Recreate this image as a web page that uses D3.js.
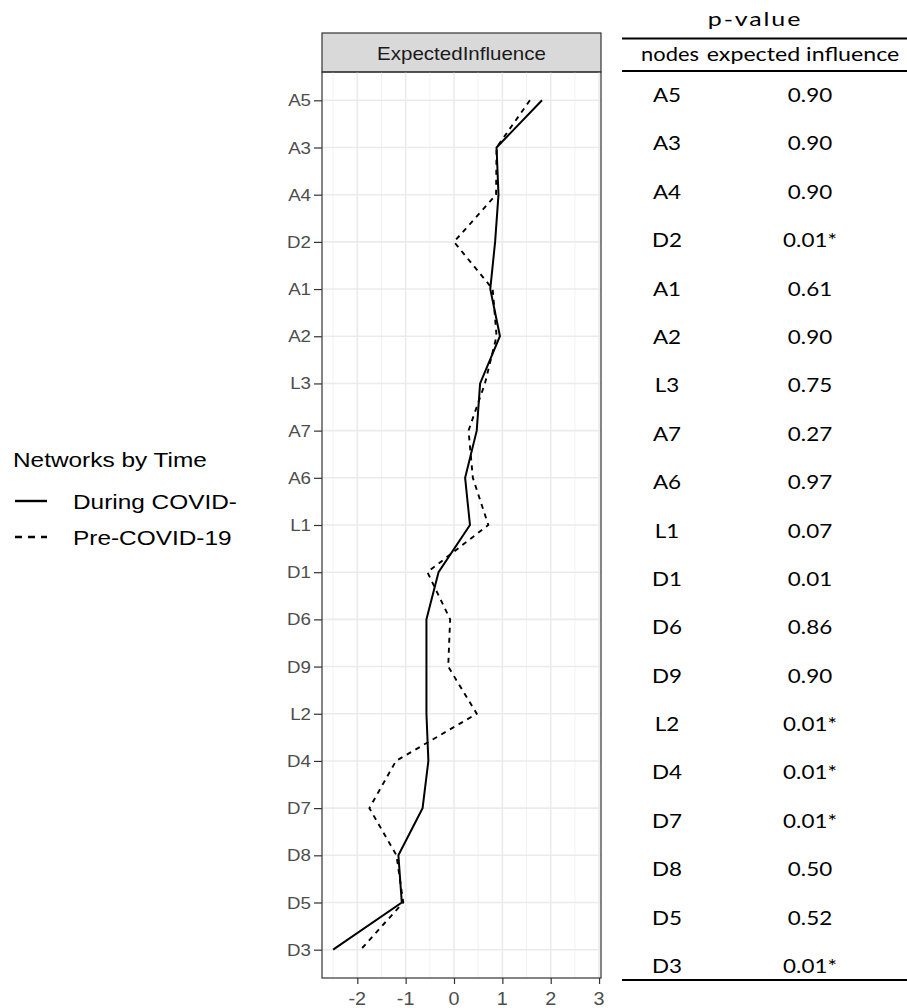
<!DOCTYPE html>
<html>
<head>
<meta charset="utf-8">
<script src="https://cdnjs.cloudflare.com/ajax/libs/d3/7.8.5/d3.min.js"></script>
<style>
  body { margin: 0; background: #fff; }
  svg { display: block; }
</style>
</head>
<body>
<svg id="chart" width="907" height="1008"></svg>
<script>
// nodes, top to bottom
var nodes = ["A5","A3","A4","D2","A1","A2","L3","A7","A6","L1","D1","D6","D9","L2","D4","D7","D8","D5","D3"];
// expected influence, During COVID- (solid)
var during = [1.82,0.88,0.92,0.85,0.75,0.95,0.54,0.47,0.23,0.33,-0.32,-0.57,-0.57,-0.57,-0.53,-0.65,-1.15,-1.08,-2.5];
// expected influence, Pre-COVID-19 (dashed)
var pre = [1.57,0.88,0.87,0.0,0.8,0.88,0.64,0.3,0.39,0.71,-0.55,-0.08,-0.12,0.47,-1.2,-1.75,-1.19,-1.05,-1.93];
// p-values column of the table
var pvals = ["0.90","0.90","0.90","0.01*","0.61","0.90","0.75","0.27","0.97","0.07","0.01","0.86","0.90","0.01*","0.01*","0.01*","0.50","0.52","0.01*"];
var xTicks = [-2,-1,0,1,2,3];
var seriesNames = ["During COVID-","Pre-COVID-19"];

var svg = d3.select("#chart");
var sans = "Liberation Sans, Arial, sans-serif";

// the picture is a bit wider than tall, so text is stretched sideways
function stext(g, px, py, str, size, k, anchor, family) {
    return g.append("text")
        .attr("transform", "translate(" + px + "," + py + ") scale(" + k + ",1)")
        .attr("text-anchor", anchor || "start")
        .attr("font-family", family || sans)
        .attr("font-size", size)
        .text(str);
}

// panel geometry
var pl = 322, pr = 601, pt = 72, pb = 978, stripTop = 33;

var x = d3.scaleLinear().domain([-2.73, 3.04]).range([pl, pr]);
var y = d3.scalePoint().domain(nodes).range([pt, pb]).padding(0.6);

// strip
svg.append("rect")
    .attr("x", pl).attr("y", stripTop)
    .attr("width", pr - pl).attr("height", pt - stripTop)
    .attr("fill", "#d9d9d9").attr("stroke", "#333").attr("stroke-width", 1.2);
stext(svg, (pl + pr) / 2, 59.5, "ExpectedInfluence", 18, 1.14, "middle").attr("fill", "#1a1a1a");

// grid
var grid = svg.append("g");
d3.range(-2.5, 3.01, 1).forEach(function(v) {
    grid.append("line").attr("x1", x(v)).attr("x2", x(v)).attr("y1", pt).attr("y2", pb)
        .attr("stroke", "#f2f2f2").attr("stroke-width", 1);
});
xTicks.forEach(function(v) {
    grid.append("line").attr("x1", x(v)).attr("x2", x(v)).attr("y1", pt).attr("y2", pb)
        .attr("stroke", "#ebebeb").attr("stroke-width", 1.6);
});
nodes.forEach(function(n) {
    grid.append("line").attr("x1", pl).attr("x2", pr).attr("y1", y(n)).attr("y2", y(n))
        .attr("stroke", "#ebebeb").attr("stroke-width", 1.6);
});

// lines
var line = d3.line()
    .x(function(d) { return x(d.v); })
    .y(function(d) { return y(d.n); });

svg.append("path")
    .datum(nodes.map(function(n, i) { return {n: n, v: pre[i]}; }))
    .attr("d", line)
    .attr("fill", "none").attr("stroke", "#000")
    .attr("stroke-width", 1.9).attr("stroke-dasharray", "5,5");

svg.append("path")
    .datum(nodes.map(function(n, i) { return {n: n, v: during[i]}; }))
    .attr("d", line)
    .attr("fill", "none").attr("stroke", "#000")
    .attr("stroke-width", 2);

// border
svg.append("rect")
    .attr("x", pl).attr("y", pt).attr("width", pr - pl).attr("height", pb - pt)
    .attr("fill", "none").attr("stroke", "#333").attr("stroke-width", 1.2);

// axes
var yAxis = svg.append("g")
    .attr("transform", "translate(" + pl + ",0)")
    .call(d3.axisLeft(y).tickSize(8).tickFormat(""));
yAxis.select(".domain").remove();
yAxis.selectAll("line").attr("stroke", "#333").attr("stroke-width", 1.2);
nodes.forEach(function(n) {
    stext(svg, pl - 11, y(n) + 6, n, 17, 1.1, "end").attr("fill", "#4d4d4d");
});

var xAxis = svg.append("g")
    .attr("transform", "translate(0," + pb + ")")
    .call(d3.axisBottom(x).tickValues(xTicks).tickSize(6).tickFormat(""));
xAxis.select(".domain").remove();
xAxis.selectAll("line").attr("stroke", "#333").attr("stroke-width", 1.2);
xTicks.forEach(function(v) {
    stext(svg, x(v), 1005, String(v), 18, 1.1, "middle").attr("fill", "#4d4d4d");
});

// legend
var legend = svg.append("g");
stext(legend, 13, 467, "Networks by Time", 20, 1.22).attr("fill", "#000");
seriesNames.forEach(function(s, i) {
    var ly = 501 + i * 36;
    legend.append("line").attr("x1", 15).attr("x2", 47).attr("y1", ly).attr("y2", ly)
        .attr("stroke", "#000").attr("stroke-width", 2.4)
        .attr("stroke-dasharray", i === 1 ? "7,6" : null);
    stext(legend, 73, ly + 8, s, 20, 1.22).attr("fill", "#000");
});

// table
var tf = "Lato, 'Noto Sans', sans-serif";
var table = svg.append("g").attr("fill", "#000");
var colNode = 667, colP = 810;
var ty = d3.scalePoint().domain(nodes).range([95, 966]);
stext(table, 755, 26, "p-value", 20, 1.25, "middle", tf).attr("letter-spacing", 1.5);
table.append("line").attr("x1", 622).attr("x2", 907).attr("y1", 38.5).attr("y2", 38.5)
    .attr("stroke", "#000").attr("stroke-width", 2);
stext(table, 670, 61, "nodes", 19, 1.15, "middle", tf);
stext(table, 803, 61, "expected influence", 19, 1.22, "middle", tf);
table.append("line").attr("x1", 622).attr("x2", 907).attr("y1", 71).attr("y2", 71)
    .attr("stroke", "#000").attr("stroke-width", 2);
nodes.forEach(function(n, i) {
    stext(table, colNode, ty(n) + 7, n, 19, 1.18, "middle", tf);
    stext(table, colP, ty(n) + 7, pvals[i], 19, 1.18, "middle", tf);
});
table.append("line").attr("x1", 622).attr("x2", 907).attr("y1", 980).attr("y2", 980)
    .attr("stroke", "#000").attr("stroke-width", 2);
</script>
</body>
</html>
